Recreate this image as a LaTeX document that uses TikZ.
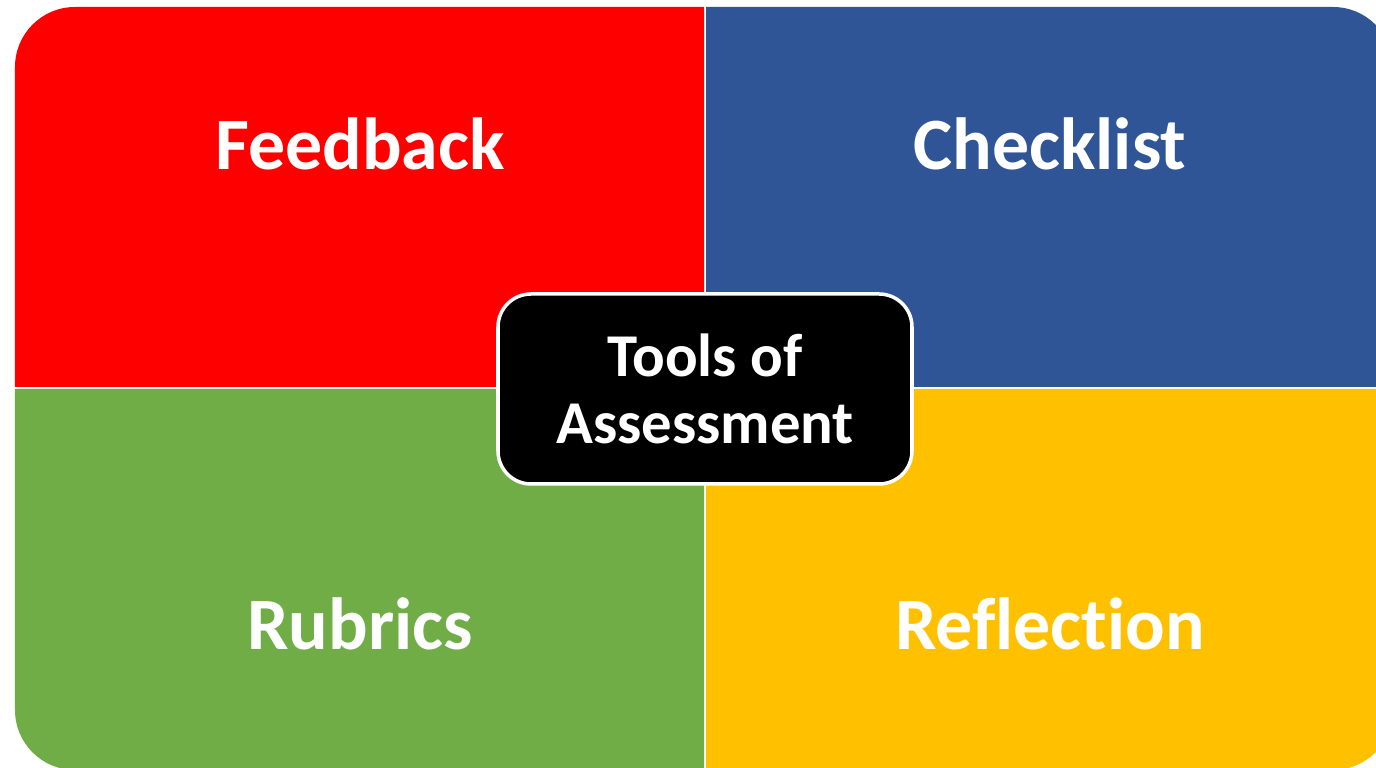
\documentclass[tikz,border=0pt]{standalone}
\usepackage{fontspec}
\setmainfont{Carlito}[Ligatures=NoCommon]
\definecolor{quadred}{HTML}{FF0000}
\definecolor{quadblue}{HTML}{2F5597}
\definecolor{quadgreen}{HTML}{70AD47}
\definecolor{quadyellow}{HTML}{FFC000}
\tikzset{
    label/.style={text=white,font=\bfseries\fontsize{21pt}{25pt}\selectfont,anchor=base},
    centre/.style={fill=black,draw=white,line width=1pt,rounded corners=0.33cm,minimum width=4.14cm,minimum height=1.9cm,text=white,align=center,font=\bfseries\fontsize{17.3pt}{19pt}\selectfont}
}
\begin{document}
\begin{tikzpicture}
        \useasboundingbox (0,0) rectangle (13.76,7.68);
        \fill[quadred] (0.15,3.81) [rounded corners=0.6cm] -- (0.15,7.61) [sharp corners] -- (7.04,7.61) -- (7.04,3.81) -- cycle;
        \fill[quadblue] (7.06,7.61) [rounded corners=0.6cm] -- (13.93,7.61) [sharp corners] -- (13.93,3.81) -- (7.06,3.81) -- cycle;
        \fill[quadgreen] (7.04,-0.02) [rounded corners=0.6cm] -- (0.15,-0.02) [sharp corners] -- (0.15,3.79) -- (7.04,3.79) -- cycle;
        \fill[quadyellow] (13.93,3.79) [rounded corners=0.6cm] -- (13.93,-0.02) [sharp corners] -- (7.06,-0.02) -- (7.06,3.79) -- cycle;
        \node[label] (feedback) at (3.60,5.98) {Feedback};
        \node[label] (checklist) at (10.50,5.98) {Checklist};
        \node[label] (rubrics) at (3.60,1.18) {Rubrics};
        \node[label] (reflection) at (10.50,1.18) {Reflection};
        \node[centre] (tools) at (7.05,3.79) {Tools of\\Assessment};
    \end{tikzpicture}
\end{document}
